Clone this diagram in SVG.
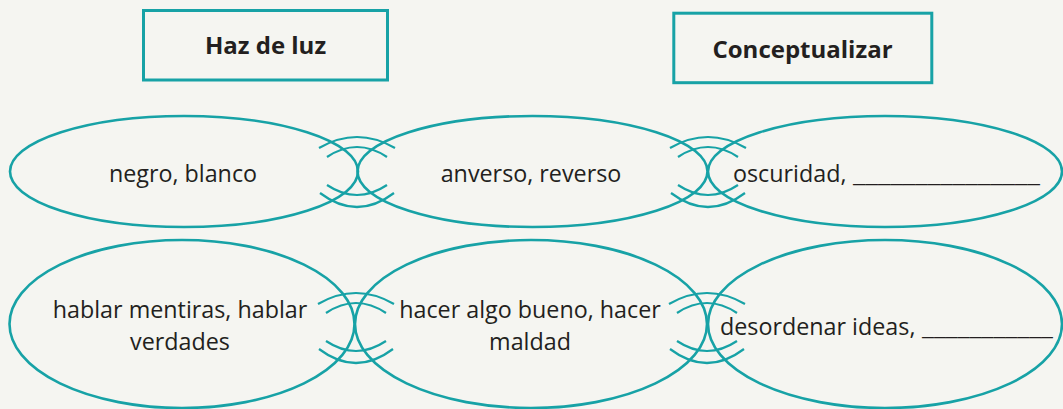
<svg xmlns="http://www.w3.org/2000/svg" width="1063" height="409" viewBox="0 0 1063 409">
<defs>
<style>
.bg{fill:#f5f5f1}
.box{fill:none;stroke:#17a2a6;stroke-width:3}
.ell{fill:none;stroke:#17a2a6;stroke-width:2.6}
.arc{fill:none;stroke:#17a2a6;stroke-width:2.2}
.t{font-family:"Open Sans","Liberation Sans",sans-serif;font-size:23.3px;fill:#231f20;text-anchor:middle}
.tl{font-family:"Open Sans","Liberation Sans",sans-serif;font-size:23.3px;fill:#231f20}
.b{font-family:"Open Sans","Liberation Sans",sans-serif;font-size:24px;font-weight:bold;fill:#231f20;text-anchor:middle}
</style>
<g id="waves">
<path class="arc" d="M-38,-24 Q0,-46 38,-24"/>
<path class="arc" d="M-30,-15 Q0,-35 30,-15"/>
<path class="arc" d="M-30,13 Q0,33 30,13"/>
<path class="arc" d="M-37,21 Q0,49 37,21"/>
</g>
</defs>
<rect class="bg" x="0" y="0" width="1063" height="409"/>
<g id="title1">
<rect class="box" x="143.5" y="10.5" width="244" height="69.5"/>
<text class="b" x="265.5" y="54">Haz de luz</text>
</g>
<g id="title2">
<rect class="box" x="673.8" y="13.2" width="258" height="69.5"/>
<text class="b" x="802.5" y="58">Conceptualizar</text>
</g>
<g id="connectors">
<use href="#waves" x="357" y="172"/>
<use href="#waves" x="708" y="172"/>
<use href="#waves" x="356" y="328"/>
<use href="#waves" x="707" y="328"/>
</g>
<g id="n1">
<ellipse class="ell" cx="184" cy="171.5" rx="174" ry="55.5"/>
<text class="t" x="183" y="182">negro, blanco</text>
</g>
<g id="n2">
<ellipse class="ell" cx="532.5" cy="171.5" rx="175" ry="55.5"/>
<text class="t" x="531" y="182">anverso, reverso</text>
</g>
<g id="n3">
<ellipse class="ell" cx="885" cy="171.5" rx="177" ry="55.5"/>
<text class="tl" x="733" y="182">oscuridad, <tspan x="853" textLength="187" lengthAdjust="spacingAndGlyphs">_______________</tspan></text>
</g>
<g id="n4">
<ellipse class="ell" cx="182" cy="324" rx="172.5" ry="84"/>
<text class="t" x="180" y="318">hablar mentiras, hablar</text>
<text class="t" x="180" y="350">verdades</text>
</g>
<g id="n5">
<ellipse class="ell" cx="531" cy="324" rx="176" ry="84"/>
<text class="t" x="530" y="318">hacer algo bueno, hacer</text>
<text class="t" x="530" y="350">maldad</text>
</g>
<g id="n6">
<ellipse class="ell" cx="885" cy="324" rx="177" ry="84"/>
<text class="tl" x="720" y="335">desordenar ideas, <tspan x="922" textLength="131" lengthAdjust="spacingAndGlyphs">___________</tspan></text>
</g>
</svg>
